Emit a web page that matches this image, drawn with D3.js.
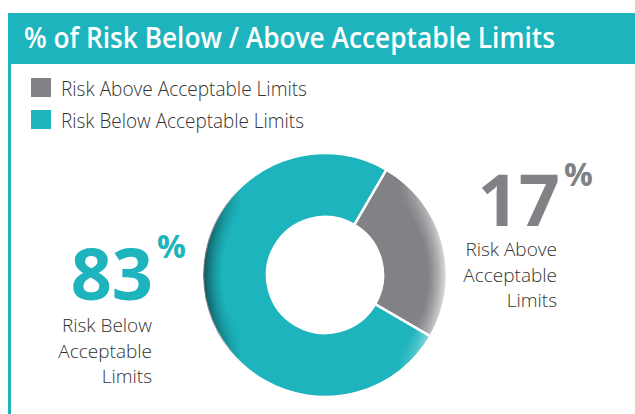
<!DOCTYPE html>
<html>
<head>
<meta charset="utf-8">
<script src="https://cdn.jsdelivr.net/npm/d3@7"></script>
<style>
  body { margin: 0; background: #fff; }
  svg { display: block; }
</style>
</head>
<body>
<div id="chart"></div>
<script>
const title = "% of Risk Below / Above Acceptable Limits";
const categories = ["Risk Above Acceptable Limits", "Risk Below Acceptable Limits"];
const percentLabels = [17, 83];
// share of the ring each slice covers in the artwork (grey slice drawn as about a quarter)
const sliceShares = [25, 75];
const calloutLines = [
    ["Risk Above", "Acceptable", "Limits"],
    ["Risk Below", "Acceptable", "Limits"]
];
const colors = ["#808285", "#1db4bd"];

const width = 635, height = 414;
const teal = "#1db4bd";
const lightFont = "'Open Sans', 'Noto Sans', sans-serif";

var svg = d3.select("#chart")
    .append("svg")
    .attr("width", width)
    .attr("height", height);

var defs = svg.append("defs");

//Header band + left rule
svg.append("rect")
    .attr("x", 8).attr("y", 13)
    .attr("width", width - 8).attr("height", 51)
    .attr("fill", teal);
svg.append("rect")
    .attr("x", 8).attr("y", 13)
    .attr("width", 3).attr("height", height - 13)
    .attr("fill", teal);

svg.append("text")
    .attr("x", 24).attr("y", 48)
    .attr("fill", "#fff")
    .attr("font-family", lightFont)
    .attr("font-weight", 600)
    .attr("font-size", 28)
    .attr("textLength", 531)
    .attr("lengthAdjust", "spacingAndGlyphs")
    .text(title);

//Legend
var legend = svg.selectAll("g.legend")
    .data(categories)
    .enter()
    .append("g")
    .attr("class", "legend")
    .attr("transform", (d, i) => "translate(31," + (78 + i * 32) + ")");

legend.append("rect")
    .attr("width", 20).attr("height", 19)
    .attr("fill", (d, i) => colors[i]);

legend.append("text")
    .attr("x", 30).attr("y", 17.5)
    .attr("fill", "#333")
    .attr("font-family", lightFont)
    .attr("font-weight", 300)
    .attr("font-size", 21)
    .attr("textLength", (d, i) => i === 0 ? 246 : 243)
    .attr("lengthAdjust", "spacingAndGlyphs")
    .text(d => d);

//Donut
var cx = 325, cy = 275, outerR = 122, innerR = 58;
var start = 30.2 * Math.PI / 180;

var pie = d3.pie()
    .sort(null)
    .value(d => d)
    .startAngle(start)
    .endAngle(start + 2 * Math.PI);

var arc = d3.arc().innerRadius(innerR).outerRadius(outerR);

var donut = svg.append("g")
    .attr("transform", "translate(" + cx + "," + cy + ")");

donut.selectAll("path.slice")
    .data(pie(sliceShares))
    .enter()
    .append("path")
    .attr("class", "slice")
    .attr("d", arc)
    .attr("fill", (d, i) => colors[i])
    .attr("stroke", "#fff")
    .attr("stroke-width", 2.5);

//rim shading: dark on the left edge, light on the right edge
var shade = defs.append("linearGradient")
    .attr("id", "rimShade")
    .attr("gradientUnits", "userSpaceOnUse")
    .attr("x1", -outerR).attr("x2", outerR).attr("y1", 0).attr("y2", 0);
shade.append("stop").attr("offset", "0%").attr("stop-color", "#000").attr("stop-opacity", 0.55);
shade.append("stop").attr("offset", "16%").attr("stop-color", "#000").attr("stop-opacity", 0);
shade.append("stop").attr("offset", "80%").attr("stop-color", "#fff").attr("stop-opacity", 0);
shade.append("stop").attr("offset", "100%").attr("stop-color", "#fff").attr("stop-opacity", 0.8);

var rimFade = defs.append("radialGradient")
    .attr("id", "rimFade")
    .attr("gradientUnits", "userSpaceOnUse")
    .attr("cx", 0).attr("cy", 0).attr("r", outerR);
rimFade.append("stop").attr("offset", "84%").attr("stop-color", "#fff").attr("stop-opacity", 0);
rimFade.append("stop").attr("offset", "100%").attr("stop-color", "#fff").attr("stop-opacity", 1);

defs.append("mask")
    .attr("id", "rimMask")
    .attr("maskUnits", "userSpaceOnUse")
    .attr("x", -outerR).attr("y", -outerR)
    .attr("width", 2 * outerR).attr("height", 2 * outerR)
    .append("circle")
    .attr("r", outerR)
    .attr("fill", "url(#rimFade)");

donut.append("path")
    .attr("d", d3.arc().innerRadius(innerR).outerRadius(outerR)({startAngle: 0, endAngle: 2 * Math.PI}))
    .attr("fill", "url(#rimShade)")
    .attr("mask", "url(#rimMask)");

//Callouts
var callouts = [
    {x: 560, numY: 226, pctY: 186, anchor: 557, textY: 256},
    {x: 153, numY: 300, pctY: 258, anchor: 152, textY: 332}
];

callouts.forEach(function(c, i) {
    svg.append("text")
        .attr("x", c.x).attr("y", c.numY)
        .attr("text-anchor", "end")
        .attr("fill", colors[i])
        .attr("font-family", lightFont)
        .attr("font-weight", 700)
        .attr("font-size", 72)
        .text(percentLabels[i]);
    svg.append("text")
        .attr("x", c.x + 4).attr("y", c.pctY)
        .attr("fill", colors[i])
        .attr("font-family", lightFont)
        .attr("font-weight", 700)
        .attr("font-size", 32)
        .text("%");
    svg.append("g").selectAll("text")
        .data(calloutLines[i])
        .enter()
        .append("text")
        .attr("x", c.anchor)
        .attr("y", (d, j) => c.textY + j * 25.5)
        .attr("text-anchor", "end")
        .attr("fill", "#333")
        .attr("font-family", lightFont)
        .attr("font-weight", 300)
        .attr("font-size", 19)
        .text(d => d);
});
</script>
</body>
</html>
